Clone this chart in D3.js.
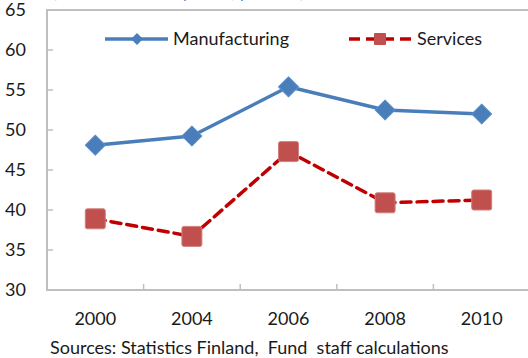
<!DOCTYPE html>
<html>
<head>
<meta charset="utf-8">
<script src="https://cdn.jsdelivr.net/npm/d3@7"></script>
<style>
  html, body { margin: 0; padding: 0; background: #fff; overflow: hidden; }
  svg { display: block; }
  text { font-family: Lato, "Open Sans", sans-serif; fill: #1a1a1a; }
</style>
</head>
<body>
<svg id="chart" width="528" height="358"></svg>
<script>
// Data
const years = ["2000", "2004", "2006", "2008", "2010"];
const manufacturing = [48.1, 49.25, 55.4, 52.5, 52.0];
const services = [38.9, 36.7, 47.3, 40.9, 41.25];
const yTicks = [30, 35, 40, 45, 50, 55, 60, 65];
const seriesNames = ["Manufacturing", "Services"];
const subtitle = "(Share of industry total, percent)";
const source = "Sources: Statistics Finland,  Fund  staff calculations";

const svg = d3.select("#chart");
const plotLeft = 47, plotTop = 10, plotBottom = 290, plotRight = 530;

const x = d3.scaleBand().domain(years).range([plotLeft, plotRight]);
const y = d3.scaleLinear().domain([30, 65]).range([plotBottom, plotTop]);

const blue = "#4a7ebb", red = "#c00000", redFill = "#c0504d", frame = "#bfbfbf";

// Subtitle, mostly above the visible area
svg.append("text").attr("x", 52).attr("y", -2)
  .attr("font-size", 18).style("fill", "#4f8fd0").text(subtitle);

// Plot frame
svg.append("path")
  .attr("d", `M${plotRight},${plotTop}H${plotLeft}V${plotBottom}H${plotRight}`)
  .attr("fill", "none").attr("stroke", frame).attr("stroke-width", 2);

// Y axis ticks (inside) and labels
const yAxis = svg.append("g");
yAxis.selectAll("line").data(yTicks.slice(1, -1)).join("line")
  .attr("x1", plotLeft).attr("x2", plotLeft + 6)
  .attr("y1", d => y(d)).attr("y2", d => y(d))
  .attr("stroke", frame).attr("stroke-width", 1.5);
yAxis.selectAll("text").data(yTicks).join("text")
  .attr("x", 26).attr("y", d => y(d)).attr("dy", "0.36em")
  .attr("text-anchor", "end").attr("font-size", 18).text(d => d);

// X axis: boundary ticks between categories and labels
const xAxis = svg.append("g");
xAxis.selectAll("line").data(years.slice(1)).join("line")
  .attr("x1", d => x(d)).attr("x2", d => x(d))
  .attr("y1", plotBottom).attr("y2", plotBottom - 6)
  .attr("stroke", frame).attr("stroke-width", 1.5);
xAxis.selectAll("text").data(years).join("text")
  .attr("x", d => x(d) + x.bandwidth() / 2).attr("y", 325)
  .attr("text-anchor", "middle").attr("font-size", 18).text(d => d);

const cx = (d, i) => x(years[i]) + x.bandwidth() / 2;
const line = d3.line().x((d, i) => cx(d, i)).y(d => y(d));

// Manufacturing series
svg.append("path").datum(manufacturing).attr("d", line)
  .attr("fill", "none").attr("stroke", blue).attr("stroke-width", 3.5)
  .attr("stroke-linejoin", "round");
const diamond = d3.symbol().type(d3.symbolSquare).size(200);
svg.selectAll(".mk-m").data(manufacturing).join("path")
  .attr("class", "mk-m").attr("d", diamond)
  .attr("transform", (d, i) => `translate(${cx(d, i)},${y(d)}) rotate(45)`)
  .attr("fill", blue).attr("stroke", "#5a8ccb").attr("stroke-width", 1)
  .attr("stroke-linejoin", "round");

// Services series
svg.append("path").datum(services).attr("d", line)
  .attr("fill", "none").attr("stroke", red).attr("stroke-width", 3.5)
  .attr("stroke-dasharray", "10,6").attr("stroke-linecap", "round");
svg.selectAll(".mk-s").data(services).join("rect")
  .attr("class", "mk-s")
  .attr("x", (d, i) => cx(d, i) - 10).attr("y", d => y(d) - 10)
  .attr("width", 20).attr("height", 20).attr("rx", 2)
  .attr("fill", redFill).attr("stroke", "#d27f7c").attr("stroke-width", 1);

// Legend
const lg = svg.append("g");
lg.append("line").attr("x1", 105).attr("x2", 168).attr("y1", 39).attr("y2", 39)
  .attr("stroke", blue).attr("stroke-width", 3.5);
lg.append("path").attr("d", d3.symbol().type(d3.symbolSquare).size(72))
  .attr("transform", "translate(137,39) rotate(45)").attr("fill", blue);
lg.append("text").attr("x", 173).attr("y", 39).attr("dy", "0.36em")
  .attr("font-size", 18).text(seriesNames[0]);

lg.append("line").attr("x1", 349).attr("x2", 412).attr("y1", 39).attr("y2", 39)
  .attr("stroke", red).attr("stroke-width", 3.5).attr("stroke-dasharray", "11,6");
lg.append("rect").attr("x", 374).attr("y", 33).attr("width", 12).attr("height", 12)
  .attr("rx", 1).attr("fill", redFill);
lg.append("text").attr("x", 417).attr("y", 39).attr("dy", "0.36em")
  .attr("font-size", 18).text(seriesNames[1]);

// Source note
svg.append("text").attr("x", 50).attr("y", 354).attr("font-size", 18)
  .style("white-space", "pre").attr("xml:space", "preserve").text(source);
</script>
</body>
</html>
